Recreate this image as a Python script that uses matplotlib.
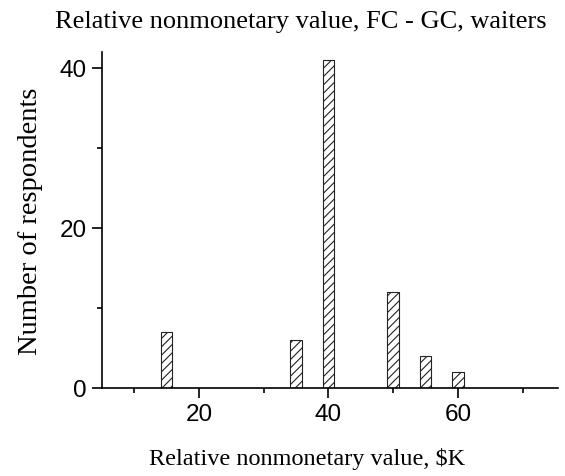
import matplotlib.pyplot as plt
from matplotlib.ticker import MultipleLocator

values = [15, 35, 40, 50, 55, 60]
counts = [7, 6, 41, 12, 4, 2]

plt.rcParams['hatch.linewidth'] = 0.8

fig = plt.figure(figsize=(5.65, 4.77), dpi=100)
ax = fig.add_axes([0.18, 0.1845, 0.808, 0.7045])

ax.bar(values, counts, width=1.8, color='white', edgecolor='#222222',
       linewidth=0.8, hatch='////')

ax.set_xlim(5, 75.5)
ax.set_ylim(0, 42)
ax.xaxis.set_major_locator(MultipleLocator(20))
ax.xaxis.set_minor_locator(MultipleLocator(10))
ax.yaxis.set_major_locator(MultipleLocator(20))
ax.yaxis.set_minor_locator(MultipleLocator(10))

for s in ['top', 'right']:
    ax.spines[s].set_visible(False)
for s in ['left', 'bottom']:
    ax.spines[s].set_linewidth(1.2)

ax.tick_params(which='major', length=7, width=1.2, labelsize=17.5,
               direction='out', pad=3.5)
ax.tick_params(which='minor', length=3.5, width=1.2, direction='out')
for lab in ax.get_xticklabels() + ax.get_yticklabels():
    lab.set_family('Liberation Sans')

ax.set_xlabel('Relative nonmonetary value, $K', family='Liberation Serif',
              fontsize=17.5, labelpad=16)
ax.xaxis.label.set_x(0.45)
ax.set_ylabel('Number of respondents', family='Liberation Serif',
              fontsize=20.5, labelpad=12)
fig.text(0.533, 0.954, 'Relative nonmonetary value, FC - GC, waiters',
         family='Liberation Serif', fontsize=19, ha='center', va='center')

plt.savefig('out.png')
